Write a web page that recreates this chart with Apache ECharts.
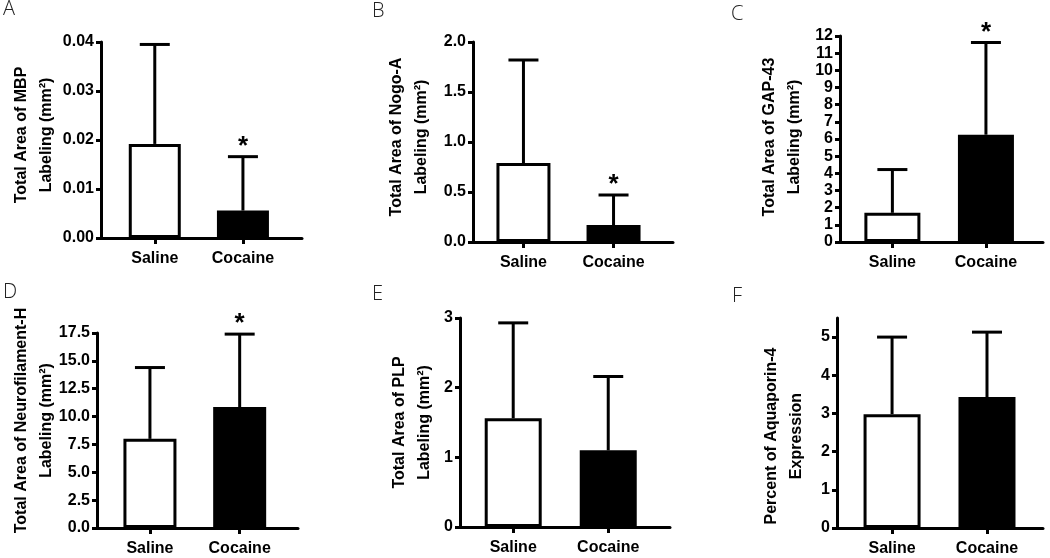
<!DOCTYPE html>
<html>
<head>
<meta charset="utf-8">
<script src="https://cdn.jsdelivr.net/npm/echarts@6/dist/echarts.min.js"></script>
<style>
html,body{margin:0;padding:0;background:#fff;}
#chart{width:1050px;height:558px;}
</style>
</head>
<body>
<div id="chart"></div>
<script>
// ---------- data ----------
const categories = ['Saline', 'Cocaine'];
const panelLetters = ['A', 'B', 'C', 'D', 'E', 'F'];
const yTitles = [
  'Total Area of MBP\nLabeling (mm²)',
  'Total Area of Nogo-A\nLabeling (mm²)',
  'Total Area of GAP-43\nLabeling (mm²)',
  'Total Area of Neurofilament-H\nLabeling (mm²)',
  'Total Area of PLP\nLabeling (mm²)',
  'Percent of Aquaporin-4\nExpression'
];
const meanA = [0.0192, 0.0056];  const errA = [0.0203, 0.0110];
const meanB = [0.79, 0.17];      const errB = [1.03, 0.30];
const meanC = [1.70, 6.25];      const errC = [2.52, 5.37];
const meanD = [8.0, 10.85];      const errD = [6.4, 6.55];
const meanE = [1.56, 1.10];      const errE = [1.37, 1.06];
const meanF = [2.98, 3.43];      const errF = [2.02, 1.70];
const starA = ['', '*'];
const starB = ['', '*'];
const starC = ['', '*'];
const starD = ['', '*'];
const starE = ['', ''];
const starF = ['', ''];
const ticksA = [0, 0.01, 0.02, 0.03, 0.04];
const ticksB = [0, 0.5, 1.0, 1.5, 2.0];
const ticksC = [0, 1, 2, 3, 4, 5, 6, 7, 8, 9, 10, 11, 12];
const ticksD = [0, 2.5, 5, 7.5, 10, 12.5, 15, 17.5];
const ticksE = [0, 1, 2, 3];
const ticksF = [0, 1, 2, 3, 4, 5];
const yMaxes = [0.04, 2.0, 12, 17.5, 3, 5.5];
const decimals = [2, 1, 0, 1, 0, 0];

// ---------- layout ----------
const means = [meanA, meanB, meanC, meanD, meanE, meanF];
const errs = [errA, errB, errC, errD, errE, errF];
const stars = [starA, starB, starC, starD, starE, starF];
const ticks = [ticksA, ticksB, ticksC, ticksD, ticksE, ticksF];
// [axisX, topY, zeroY, rightX]
const boxes = [
  [101, 42, 238, 302],
  [473, 42, 242, 673],
  [840, 36, 242, 1043],
  [97, 333, 528, 298],
  [460, 318, 527, 670],
  [837, 318, 528, 1043]
];
const xRanges = [[0.39, 2.67], [0.44, 2.66], [0.44, 2.61], [0.41, 2.65], [0.44, 2.65], [0.42, 2.59]];
const barWidths = [52, 54, 56, 53, 57, 57];
const nameGaps = [42, 39, 33, 38, 23, 28];
// padding to nudge the rotated title along the axis: [top, right, bottom, left]
const namePads = [[0, 0, 0, 10], [0, 0, 0, 10], [0, 0, 0, 4], [0, 0, 0, 20], [0, 0, 0, 0], [0, 26, 0, 0]];
const letterPos = [[3, -1], [372, 1], [731, 4], [3, 282], [372, 284], [732, 286]];
const FONT = '"Liberation Sans", Arial, sans-serif';

const grids = [], xAxes = [], yAxes = [], series = [], titles = [];
for (let i = 0; i < 6; i++) {
  const b = boxes[i];
  grids.push({left: b[0], top: b[1], width: b[3] - b[0], height: b[2] - b[1],
    containLabel: false, outerBoundsMode: 'none'});
  xAxes.push({
    type: 'value', gridIndex: i, min: xRanges[i][0], max: xRanges[i][1],
    axisLine: {show: true, lineStyle: {color: '#000', width: 3}},
    axisTick: {show: true, customValues: [1, 2], length: 6, lineStyle: {color: '#000', width: 3}},
    axisLabel: {customValues: [1, 2], margin: 13, color: '#000', fontFamily: FONT, fontWeight: 'bold', fontSize: 16,
      showMinLabel: true, showMaxLabel: true,
      formatter: v => categories[Math.round(v) - 1] || ''},
    splitLine: {show: false}
  });
  const dec = decimals[i];
  yAxes.push({
    type: 'value', gridIndex: i, min: 0, max: yMaxes[i],
    axisLine: {show: true, lineStyle: {color: '#000', width: 3}},
    axisTick: {show: true, customValues: ticks[i], length: 5, lineStyle: {color: '#000', width: 3}},
    axisLabel: {customValues: ticks[i], margin: 7, color: '#000', fontFamily: FONT, fontWeight: 'bold', fontSize: 16,
      showMinLabel: true, showMaxLabel: true, hideOverlap: false,
      formatter: v => Number(v).toFixed(dec)},
    splitLine: {show: false},
    name: yTitles[i], nameLocation: 'middle', nameRotate: 90, nameGap: nameGaps[i], nameMoveOverlap: false,
    nameTextStyle: {color: '#000', fontFamily: FONT, fontWeight: 'bold', fontSize: 16, lineHeight: 25,
      align: 'center', padding: namePads[i]}
  });
  series.push({
    type: 'bar', xAxisIndex: i, yAxisIndex: i, barWidth: barWidths[i], silent: true,
    data: categories.map((c, k) => ({
      value: [k + 1, means[i][k]],
      itemStyle: k === 0
        ? {color: '#ffffff', borderColor: '#000', borderWidth: 3}
        : {color: '#000000', borderColor: '#000', borderWidth: 3}
    }))
  });
  series.push({
    type: 'custom', xAxisIndex: i, yAxisIndex: i, silent: true, z: 3,
    encode: {x: 0, y: 1},
    data: categories.map((c, k) => [k + 1, means[i][k], errs[i][k], k]),
    renderItem: (params, api) => {
      const k = api.value(3);
      const x = api.value(0), m = api.value(1), e = api.value(2);
      const p0 = api.coord([x, m]);
      const p1 = api.coord([x, m + e]);
      const half = 15;
      const children = [
        {type: 'line', shape: {x1: p0[0], y1: p0[1], x2: p1[0], y2: p1[1]}, style: {stroke: '#000', lineWidth: 3}},
        {type: 'line', shape: {x1: p1[0] - half, y1: p1[1], x2: p1[0] + half, y2: p1[1]}, style: {stroke: '#000', lineWidth: 3}}
      ];
      const s = stars[i][k];
      if (s) {
        children.push({type: 'text', x: p1[0], y: p1[1] + 3,
          style: {text: s, fill: '#000', font: 'bold 26px "Liberation Sans", sans-serif', textAlign: 'center', textVerticalAlign: 'bottom'}});
      }
      return {type: 'group', children};
    }
  });
  titles.push({text: panelLetters[i], left: letterPos[i][0], top: letterPos[i][1], padding: 0,
    textStyle: {color: '#222', fontFamily: '"Open Sans", "Noto Sans", sans-serif', fontWeight: 300, fontSize: 20}});
}

const chart = echarts.init(document.getElementById('chart'), null, {renderer: 'canvas'});
chart.setOption({
  animation: false,
  backgroundColor: '#fff',
  title: titles,
  grid: grids,
  xAxis: xAxes,
  yAxis: yAxes,
  series: series
});
</script>
</body>
</html>
